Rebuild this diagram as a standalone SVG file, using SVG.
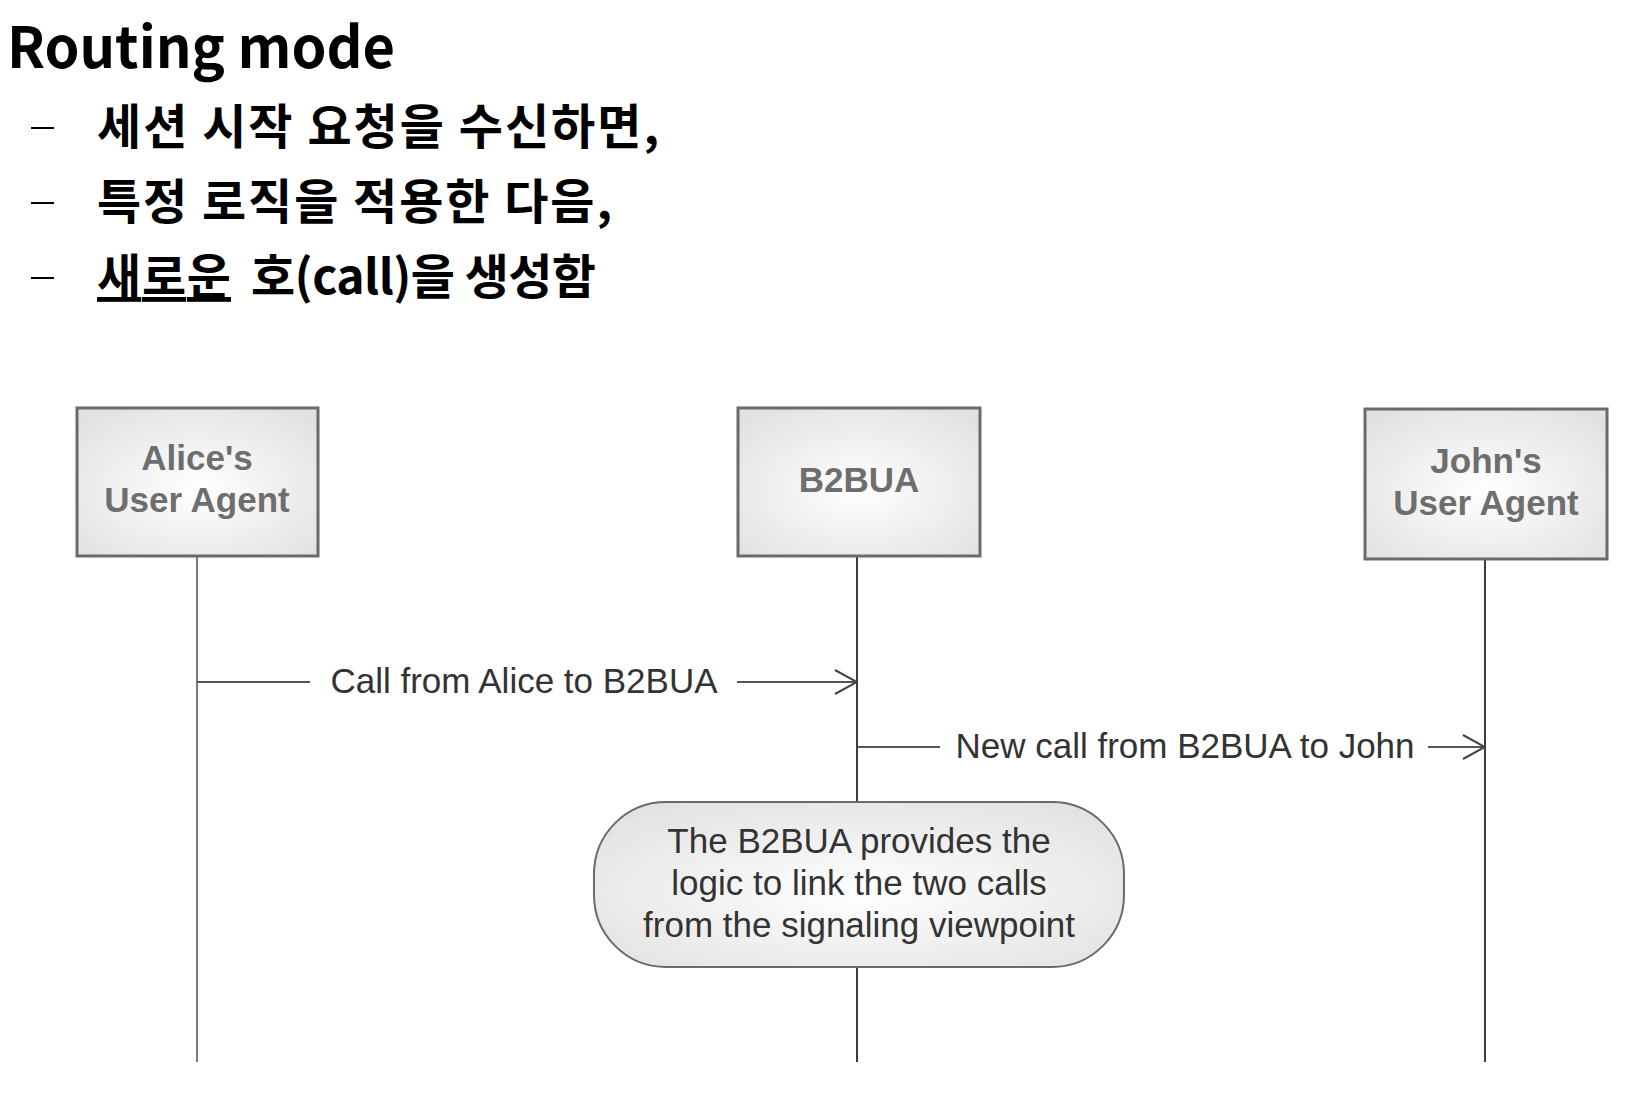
<svg xmlns="http://www.w3.org/2000/svg" width="1646" height="1110" viewBox="0 0 1646 1110">
<style>
.title{font-family:"Noto Sans CJK KR","Noto Sans",sans-serif;font-weight:700;fill:#000}
.ko{font-family:"Noto Sans CJK KR","Noto Sans",sans-serif;font-weight:700;font-size:48px;fill:#000}
.box{stroke:#6a6a6a;stroke-width:3;fill:url(#g)}
.lbl{font-family:"Liberation Sans",Arial,sans-serif;font-weight:700;font-size:35px;fill:#6e6e6e;text-anchor:middle}
.msg{font-family:"Liberation Sans",Arial,sans-serif;font-size:35px;fill:#333;}
.ll{stroke-width:2;fill:none}
.ln{stroke:#555;stroke-width:2;fill:none}
</style>
<defs>
<radialGradient id="g" cx="50%" cy="55%" r="65%">
<stop offset="0" stop-color="#ffffff"/>
<stop offset="1" stop-color="#e2e2e2"/>
</radialGradient>
<marker id="arr" viewBox="0 0 24 26" refX="23" refY="13" markerWidth="24" markerHeight="26" markerUnits="userSpaceOnUse" orient="auto">
<path d="M1,1 L23,13 L1,25" fill="none" stroke="#444" stroke-width="2"/>
</marker>
</defs>

<g id="heading">
<text class="title" x="7" y="68" font-size="57" textLength="388" lengthAdjust="spacingAndGlyphs">Routing mode</text>
<g id="b1"><line x1="31" y1="128" x2="54" y2="128" stroke="#000" stroke-width="2"/><text class="ko" x="97" y="144" textLength="562" lengthAdjust="spacing">세션 시작 요청을 수신하면,</text></g>
<g id="b2"><line x1="31" y1="203" x2="54" y2="203" stroke="#000" stroke-width="2"/><text class="ko" x="97" y="219" textLength="515" lengthAdjust="spacing">특정 로직을 적용한 다음,</text></g>
<g id="b3"><line x1="31" y1="278" x2="54" y2="278" stroke="#000" stroke-width="2"/><text class="ko" x="97" y="294" textLength="134" lengthAdjust="spacing" text-decoration="underline">새로운</text><text class="ko" x="251" y="294" textLength="345" lengthAdjust="spacing">호(call)을 생성함</text></g>
</g>

<g id="connectors">
<line class="ll" x1="197" y1="556" x2="197" y2="1062" stroke="#7a7a7a"/>
<line class="ll" x1="857" y1="556" x2="857" y2="1062" stroke="#3c3c3c"/>
<line class="ll" x1="1485" y1="559" x2="1485" y2="1062" stroke="#3c3c3c"/>
<line class="ln" x1="197" y1="682" x2="310" y2="682"/>
<line class="ln" x1="737" y1="682" x2="857" y2="682" marker-end="url(#arr)"/>
<text class="msg" x="524" y="693" text-anchor="middle">Call from Alice to B2BUA</text>
<line class="ln" x1="857" y1="747" x2="940" y2="747"/>
<line class="ln" x1="1428" y1="747" x2="1485" y2="747" marker-end="url(#arr)"/>
<text class="msg" x="1185" y="758" text-anchor="middle">New call from B2BUA to John</text>
</g>

<g id="alice">
<rect class="box" x="77" y="408" width="241" height="148"/>
<text class="lbl" x="197" y="470">Alice's</text>
<text class="lbl" x="197" y="512">User Agent</text>
</g>
<g id="b2bua">
<rect class="box" x="738" y="408" width="242" height="148"/>
<text class="lbl" x="859" y="492">B2BUA</text>
</g>
<g id="john">
<rect class="box" x="1365" y="409" width="242" height="150"/>
<text class="lbl" x="1486" y="473">John's</text>
<text class="lbl" x="1486" y="515">User Agent</text>
</g>
<g id="note">
<rect x="594" y="802" width="530" height="165" rx="72" ry="72" fill="url(#g)" stroke="#6a6a6a" stroke-width="2"/>
<text class="msg" x="859" y="853" text-anchor="middle">The B2BUA provides the</text>
<text class="msg" x="859" y="895" text-anchor="middle">logic to link the two calls</text>
<text class="msg" x="859" y="937" text-anchor="middle">from the signaling viewpoint</text>
</g>
</svg>
